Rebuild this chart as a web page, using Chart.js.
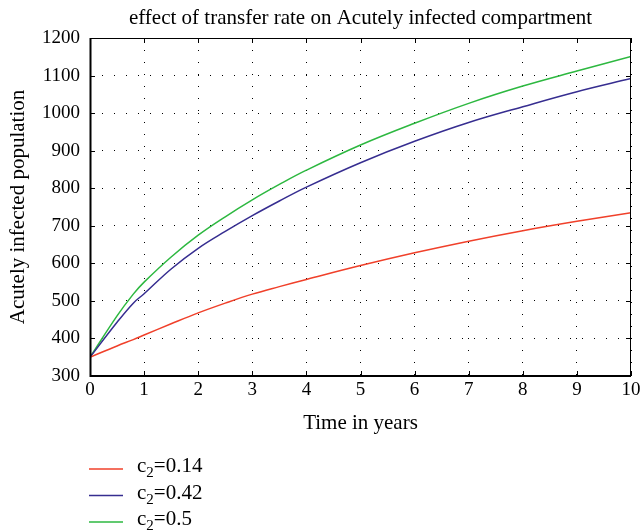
<!DOCTYPE html>
<html>
<head>
<meta charset="utf-8">
<script src="https://cdn.jsdelivr.net/npm/chart.js@4/dist/chart.umd.min.js"></script>
<style>
  body { margin: 0; background: #fff; }
  canvas { display: block; }
</style>
</head>
<body>
<canvas id="chart" width="641" height="532"></canvas>
<script>
// time points (years) and population values
const years = [0, 0.5, 0.8, 1, 1.5, 2, 2.5, 3, 3.5, 4, 5, 6, 7, 8, 9, 10];
const c2_014 = [350, 380, 397, 409, 439, 468, 494, 518, 538, 557, 594, 628, 659, 687, 712, 735];
const c2_042 = [350, 443, 494, 519, 585, 640, 685, 727, 766, 803, 868, 925, 975, 1017, 1057, 1092];
const c2_05 = [350, 460, 518, 550, 617, 675, 724, 769, 810, 848, 915, 973, 1026, 1072, 1112, 1151];
const seriesLabels = ['c\u2082=0.14', 'c\u2082=0.42', 'c\u2082=0.5'];
const xTicks = [0, 1, 2, 3, 4, 5, 6, 7, 8, 9, 10];
const yTicks = [300, 400, 500, 600, 700, 800, 900, 1000, 1100, 1200];
const chartTitle = 'effect of transfer rate on Acutely infected compartment';

const FONT = "'Liberation Serif', 'DejaVu Serif', serif";
const pts = vals => years.map((t, i) => ({ x: t, y: vals[i] }));

// title over the axes, box with inward ticks, legend under the axes
const frame = {
    id: 'frame',
    afterDraw(chart) {
        const { ctx, chartArea: a, scales } = chart;
        ctx.save();
        ctx.fillStyle = '#000';
        ctx.font = '21px ' + FONT;
        ctx.textAlign = 'center';
        ctx.textBaseline = 'middle';
        ctx.fillText(chartTitle, (a.left + a.right) / 2, 18);

        ctx.strokeStyle = '#000';
        ctx.lineWidth = 1;
        ctx.strokeRect(a.left + 0.5, a.top + 0.5, a.right - a.left - 1, a.bottom - a.top - 1);
        ctx.beginPath();
        xTicks.forEach(v => {
            const x = Math.round(scales.x.getPixelForValue(v)) + 0.5;
            ctx.moveTo(x, a.bottom); ctx.lineTo(x, a.bottom - 5);
            ctx.moveTo(x, a.top); ctx.lineTo(x, a.top + 5);
        });
        yTicks.forEach(v => {
            const y = Math.round(scales.y.getPixelForValue(v)) + 0.5;
            ctx.moveTo(a.left, y); ctx.lineTo(a.left + 5, y);
            ctx.moveTo(a.right, y); ctx.lineTo(a.right - 5, y);
        });
        ctx.stroke();
        ctx.lineWidth = 2;
        ctx.beginPath();
        ctx.moveTo(a.left + 0.5, a.top); ctx.lineTo(a.left + 0.5, a.bottom); ctx.lineTo(a.right, a.bottom);
        ctx.stroke();

        // legend, with a real subscript for the "2"
        ctx.textAlign = 'left';
        ctx.textBaseline = 'alphabetic';
        chart.data.datasets.forEach((ds, i) => {
            const y = 469 + i * 26.5;
            ctx.strokeStyle = ds.borderColor;
            ctx.lineWidth = 1.5;
            ctx.beginPath();
            ctx.moveTo(89, y); ctx.lineTo(123, y);
            ctx.stroke();
            const [pre, post] = ds.label.split('\u2082');
            let x = 137;
            const base = y + 3;
            ctx.font = '21px ' + FONT;
            ctx.fillText(pre, x, base);
            x += ctx.measureText(pre).width;
            ctx.font = '15px ' + FONT;
            ctx.fillText('2', x, base + 5);
            x += ctx.measureText('2').width;
            ctx.font = '21px ' + FONT;
            ctx.fillText(post, x, base);
        });
        ctx.restore();
    }
};

new Chart(document.getElementById('chart'), {
    type: 'line',
    data: {
        datasets: [
            { label: seriesLabels[0], data: pts(c2_014), borderColor: '#f0402a' },
            { label: seriesLabels[1], data: pts(c2_042), borderColor: '#362d90' },
            { label: seriesLabels[2], data: pts(c2_05), borderColor: '#2db840' }
        ].map(d => Object.assign(d, {
            borderWidth: 1.5,
            pointRadius: 0,
            fill: false,
            tension: 0.4
        }))
    },
    options: {
        responsive: false,
        animation: false,
        layout: { padding: { left: 0, right: 10, top: 38, bottom: 96 } },
        plugins: {
            legend: { display: false },
            tooltip: { enabled: false },
            title: { display: false }
        },
        scales: {
            x: {
                type: 'linear',
                min: 0, max: 10,
                afterBuildTicks: s => { s.ticks = xTicks.map(v => ({ value: v })); },
                afterFit: s => { s.height = 60; s.paddingLeft = 0; s.paddingRight = 0; },
                grid: { color: '#000', drawTicks: false, lineWidth: 1 },
                border: { display: false, dash: [1, 11] },
                ticks: { color: '#000', padding: 3, font: { family: FONT, size: 19 }, maxRotation: 0 },
                title: {
                    display: true, text: 'Time in years', color: '#000',
                    font: { family: FONT, size: 21 }, padding: { top: 9, bottom: 0 }
                }
            },
            y: {
                min: 300, max: 1200,
                afterBuildTicks: s => { s.ticks = yTicks.map(v => ({ value: v })); },
                afterFit: s => { s.width = 90; s.paddingTop = 0; s.paddingBottom = 0; },
                grid: { color: '#000', drawTicks: false, lineWidth: 1 },
                border: { display: false, dash: [1, 11] },
                ticks: { color: '#000', padding: 10, font: { family: FONT, size: 19 }, callback: v => String(v) },
                title: {
                    display: true, text: 'Acutely infected population', color: '#000',
                    font: { family: FONT, size: 21 }, padding: { top: 6, bottom: 0 }
                }
            }
        }
    },
    plugins: [frame]
});
</script>
</body>
</html>
